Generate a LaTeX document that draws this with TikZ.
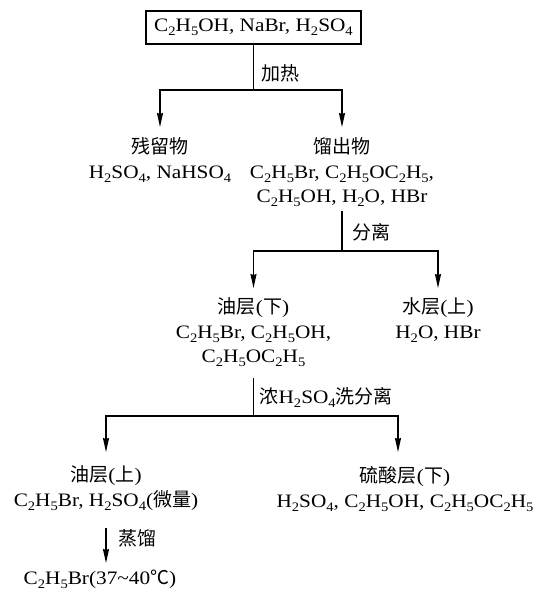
\documentclass[tikz,border=0pt]{standalone}
\usepackage{fontspec}
\setmainfont{Liberation Serif}[FakeStretch=1.12]
\newfontfamily\cjk{Noto Sans CJK SC}
\usetikzlibrary{arrows.meta}
\newcommand\sbx[1]{\raisebox{-4pt}{\fontsize{13}{13}\selectfont #1}}
\newcommand\zh[1]{{\cjk #1}}
\newcommand\tp[1]{\rule{0pt}{#1pt}}
\newcommand\bt[1]{\rule[-#1pt]{0pt}{0pt}}
\tikzset{
  arr/.style={-{Stealth[length=14pt,width=6pt,inset=1pt]}},
  blk/.style={align=center, anchor=north, inner sep=0pt},
  lbl/.style={anchor=base west, inner sep=0pt},
}
\begin{document}
\begin{tikzpicture}[x=1pt, y=-1pt, line width=1.2pt,
  every node/.style={font=\fontsize{19}{24.5}\selectfont}]
\useasboundingbox (0,0) rectangle (538,592);

\node[draw, line width=1.3pt, minimum width=215pt, minimum height=33pt, inner sep=0pt] (A) at (253.5,27.5)
  {C\sbx{2}H\sbx{5}OH, NaBr, H\sbx{2}SO\sbx{4}};

\node[blk] (B) at (160,127) {\tp{26}\zh{残留物}\\H\sbx{2}SO\sbx{4}, NaHSO\sbx{4}};
\node[blk] (C) at (342,127) {\tp{26}\zh{馏出物}\\C\sbx{2}H\sbx{5}Br, C\sbx{2}H\sbx{5}OC\sbx{2}H\sbx{5},\\C\sbx{2}H\sbx{5}OH, H\sbx{2}O, HBr\bt{8}};

\node[blk] (D) at (253.5,288) {\tp{25}\zh{油层}(\zh{下})\\C\sbx{2}H\sbx{5}Br, C\sbx{2}H\sbx{5}OH,\\C\sbx{2}H\sbx{5}OC\sbx{2}H\sbx{5}\bt{15}};
\node[blk] (E) at (438,288) {\tp{25}\zh{水层}(\zh{上})\\H\sbx{2}O, HBr};

\node[blk] (F) at (106,452) {\tp{29}\zh{油层}(\zh{上})\\C\sbx{2}H\sbx{5}Br, H\sbx{2}SO\sbx{4}(\zh{微量})\bt{21}};
\node[blk] (G) at (405,452) {\tp{30}\zh{硫酸层}(\zh{下})\\H\sbx{2}SO\sbx{4}, C\sbx{2}H\sbx{5}OH, C\sbx{2}H\sbx{5}OC\sbx{2}H\sbx{5}};

\node[blk] (H) at (100,563) {\tp{21}C\sbx{2}H\sbx{5}Br(37\textasciitilde 40\zh{℃})};

\node[lbl] (l1) at (261,80) {\zh{加热}};
\node[lbl] (l2) at (352,239) {\zh{分离}};
\node[lbl] (l3) at (259,403) {\zh{浓}H\sbx{2}SO\sbx{4}\zh{洗分离}};
\node[lbl] (l4) at (118,545) {\zh{蒸馏}};

\coordinate (j1) at (253.5,90);
\draw (A.south) -- (j1);
\draw[arr] (j1) -| (B.north);
\draw[arr] (j1) -| (C.north);

\coordinate (j2) at (C.south |- 0,251);
\draw (C.south) -- (j2);
\draw[arr] (j2) -| (D.north);
\draw[arr] (j2) -| (E.north);

\coordinate (j3) at (D.south |- 0,416);
\draw (D.south) -- (j3);
\draw[arr] (j3) -| (F.north);
\draw[arr] (j3) -| ([xshift=-7pt]G.north);

\draw[arr] (F.south) -- (F.south |- H.north);
\end{tikzpicture}
\end{document}
